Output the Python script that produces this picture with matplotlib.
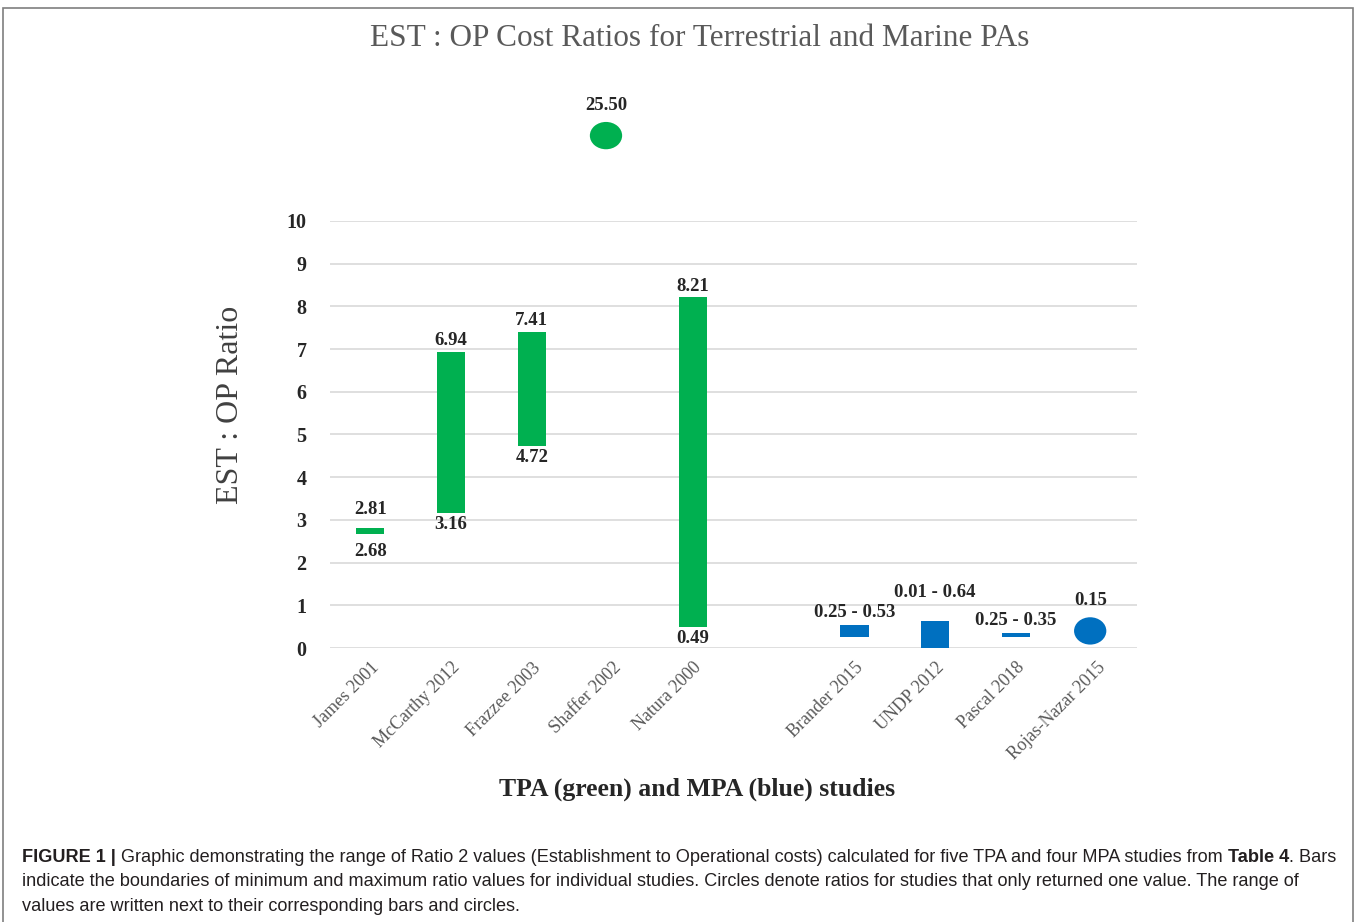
import numpy as np
import matplotlib.pyplot as plt
from matplotlib.patches import Ellipse, Rectangle

# studies and EST:OP ratio ranges
studies = ["James 2001", "McCarthy 2012", "Frazzee 2003", "Shaffer 2002", "Natura 2000",
           "Brander 2015", "UNDP 2012", "Pascal 2018", "Rojas-Nazar 2015"]
ratio_low = [2.68, 3.16, 4.72, 25.50, 0.49, 0.25, 0.01, 0.25, 0.15]
ratio_high = [2.81, 6.94, 7.41, 25.50, 8.21, 0.53, 0.64, 0.35, 0.15]
study_type = ["TPA", "TPA", "TPA", "TPA", "TPA", "MPA", "MPA", "MPA", "MPA"]
y_ticks = [0, 1, 2, 3, 4, 5, 6, 7, 8, 9, 10]

GREEN = "#00B050"
BLUE = "#0070C0"
SERIF = ["Liberation Serif", "DejaVu Serif"]
SANS = ["Liberation Sans", "DejaVu Sans"]

W, H = 1355, 922
fig = plt.figure(figsize=(W / 100, H / 100), dpi=100)
ax = fig.add_axes([330 / W, 1 - 648 / H, (1137 - 330) / W, (648 - 221) / H])

# one empty slot between the TPA and the MPA groups
xpos = []
for i, t in enumerate(study_type):
    xpos.append(i if t == "TPA" else i + 1)

ax.set_xlim(-0.5, 9.5)
ax.set_ylim(0, 10)
ax.set_yticks(y_ticks)
ax.grid(axis="y", color="#D9D9D9", linewidth=1.2)
ax.set_axisbelow(True)
for s in ax.spines.values():
    s.set_visible(False)
ax.tick_params(length=0)
ax.tick_params(axis="y", pad=17)
for lab in ax.get_yticklabels():
    lab.set_fontfamily(SERIF)
    lab.set_fontsize(14.5)
    lab.set_fontweight("bold")
    lab.set_color("#262626")

ax.set_xticks(xpos)
ax.set_xticklabels(studies, rotation=45, ha="right", rotation_mode="anchor",
                   fontfamily=SERIF, fontsize=13, color="#595959")
ax.tick_params(axis="x", pad=8)

lab_kw = dict(ha="center", fontfamily=SERIF, fontsize=13.5, fontweight="bold",
              color="#262626", textcoords="offset points", annotation_clip=False)
bar_w = 0.35
ymax = ax.get_ylim()[1]

for x, lo, hi, t in zip(xpos, ratio_low, ratio_high, study_type):
    col = GREEN if t == "TPA" else BLUE
    if lo == hi:
        # single value: drawn as a circle (off-scale values sit above the axis)
        yc = lo + 0.25 if lo < ymax else ymax + 2
        xc = x - 0.08
        ax.add_patch(Ellipse((xc, yc), 0.4, 0.64, color=col, clip_on=False, lw=0))
        ax.annotate(f"{hi:.2f}", (xc, yc + 0.32), xytext=(0, 6), va="bottom", **lab_kw)
        continue
    ax.bar(x, hi - lo, bottom=lo, width=bar_w, color=col, lw=0)
    if t == "TPA":
        pad = 7 if hi - lo < 0.5 else 2
        ax.annotate(f"{hi:.2f}", (x, hi), xytext=(0, pad), va="bottom", **lab_kw)
        ax.annotate(f"{lo:.2f}", (x, lo), xytext=(0, -pad), va="top", **lab_kw)
    else:
        pad = 14 if hi - lo > 0.6 else 3
        ax.annotate(f"{lo:.2f} - {hi:.2f}", (x, hi), xytext=(0, pad), va="bottom", **lab_kw)

fig.text(230 / W, 1 - 405 / H, "EST : OP Ratio", rotation=90, ha="center", va="center",
         fontfamily=SERIF, fontsize=23, color="#404040")

fig.text(700 / W, 1 - 38 / H, "EST : OP Cost Ratios for Terrestrial and Marine PAs",
         ha="center", va="center", fontfamily=SERIF, fontsize=22.5, color="#595959")
fig.text(697 / W, 1 - 789 / H, "TPA (green) and MPA (blue) studies",
         ha="center", va="center", fontfamily=SERIF, fontsize=18.5, fontweight="bold",
         color="#262626")

# frame around the chart
fig.patches.append(Rectangle((3 / W, -0.1), (W - 5) / W, 1.1 - 8 / H, transform=fig.transFigure,
                             fill=False, edgecolor="#7F7F7F", lw=1.2))

# caption with bold pieces
caption = [
    [("FIGURE 1 | ", "bold"),
     ("Graphic demonstrating the range of Ratio 2 values (Establishment to Operational costs) "
      "calculated for five TPA and four MPA studies from ", "normal"),
     ("Table 4", "bold"), (". Bars", "normal")],
    [("indicate the boundaries of minimum and maximum ratio values for individual studies. "
      "Circles denote ratios for studies that only returned one value. The range of", "normal")],
    [("values are written next to their corresponding bars and circles.", "normal")],
]
renderer = fig.canvas.get_renderer()
line_y = [857, 881, 906]
for parts, yy in zip(caption, line_y):
    x0 = 22
    for txt, wt in parts:
        t = fig.text(x0 / W, 1 - yy / H, txt, ha="left", va="center", fontfamily=SANS,
                     fontsize=13.1, fontweight=wt, color="#231F20")
        x0 += t.get_window_extent(renderer).width

fig.savefig("out.png", dpi=100)
